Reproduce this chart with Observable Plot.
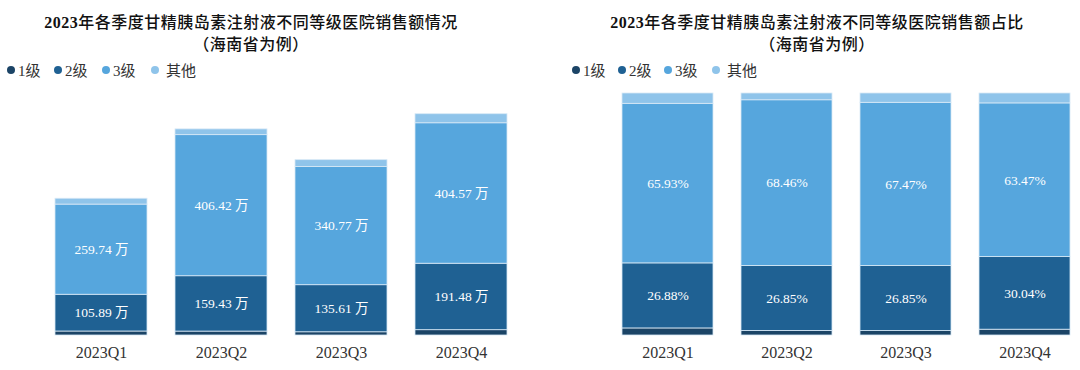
<!DOCTYPE html>
<html><head><meta charset="utf-8">
<script src="https://cdn.jsdelivr.net/npm/d3@7"></script>
<script src="https://cdn.jsdelivr.net/npm/@observablehq/plot@0.6"></script>
<style>
body{margin:0;background:#fff;width:1080px;height:370px;overflow:hidden;font-family:"Liberation Serif","Noto Sans CJK SC",serif;color:#222;}
#wrap{display:flex;}
.panel{position:relative;width:540px;height:370px;}
.t1,.t2{position:absolute;width:540px;text-align:center;font-weight:500;font-size:16px;letter-spacing:0.5px;white-space:nowrap;color:#111;}
.t1 b{font-weight:bold;}
.t1{top:9px;}
.t2{top:31px;}
.legend{position:absolute;top:59px;display:flex;align-items:center;font-size:15px;color:#333;}
.item{display:flex;align-items:center;margin-right:6px;}
.dot{width:8px;height:8px;border-radius:50%;margin-right:3px;}
.chart{position:absolute;top:80px;left:0;}
</style></head>
<body><div id="wrap"></div>
<script>
const quarters = ["2023Q1","2023Q2","2023Q3","2023Q4"];
const grades = ["1级","2级","3级","其他"];
const level1 = [11.5, 11.3, 9.3, 15.3];
const level2 = [105.89, 159.43, 135.61, 191.48];
const level3 = [259.74, 406.42, 340.77, 404.57];
const others = [16.8, 16.6, 19.4, 26.1];
const share2 = [26.88, 26.85, 26.85, 30.04];
const share3 = [65.93, 68.46, 67.47, 63.47];
const colors = ["#1b4466","#1f6193","#56a6dd","#8fc4ea"];
const titlesLeft = ["2023", "年各季度甘精胰岛素注射液不同等级医院销售额情况","（海南省为例）"];
const titlesRight = ["2023", "年各季度甘精胰岛素注射液不同等级医院销售额占比","（海南省为例）"];

const series = [level1, level2, level3, others];
const rows = [];
quarters.forEach((q, i) => {
  grades.forEach((g, j) => {
    const v = series[j][i];
    let amt = "", pct = "";
    if (j === 1) { amt = v.toFixed(2) + " 万"; pct = share2[i].toFixed(2) + "%"; }
    if (j === 2) { amt = v.toFixed(2) + " 万"; pct = share3[i].toFixed(2) + "%"; }
    rows.push({quarter: q, grade: g, value: v, amt, pct});
  });
});

function panel(titles, titleShift, legendLeft, spacings, plot) {
  const p = document.createElement("div");
  p.className = "panel";
  const t1 = document.createElement("div"); t1.className = "t1"; t1.style.left = titleShift + "px";
  const b = document.createElement("b"); b.textContent = titles[0];
  t1.append(b, document.createTextNode(titles[1]));
  const t2 = document.createElement("div"); t2.className = "t2"; t2.style.left = titleShift + "px"; t2.textContent = titles[2];
  p.append(t1, t2);
  const lg = document.createElement("div"); lg.className = "legend"; lg.style.left = legendLeft + "px";
  grades.forEach((g, j) => {
    const it = document.createElement("div"); it.className = "item";
    it.style.width = spacings[j] + "px";
    const d = document.createElement("div"); d.className = "dot"; d.style.background = colors[j];
    if (j === 3) d.style.marginRight = "7px";
    const s = document.createElement("span"); s.textContent = g;
    it.append(d, s); lg.append(it);
  });
  p.append(lg);
  plot.classList.add("chart");
  p.append(plot);
  document.getElementById("wrap").append(p);
}

const common = {
  width: 540, height: 290, marginTop: 12, marginBottom: 35, marginLeft: 0, marginRight: 0,
  color: {domain: grades, range: colors},
  style: {fontFamily: "Liberation Serif, Noto Sans CJK SC, serif", background: "transparent"}
};

const left = Plot.plot({
  ...common,
  x: {domain: quarters, range: [54, 508], paddingInner: 0.233, paddingOuter: 0, axis: null},
  y: {domain: [0, 700], axis: null},
  marks: [
    Plot.barY(rows, Plot.stackY({x: "quarter", y: "value", fill: "grade", stroke: "#d8e9f6", strokeWidth: 0.8})),
    Plot.text(rows, Plot.stackY({x: "quarter", y: "value", z: "grade", text: "amt", fill: "white", fontSize: 13.5})),
    Plot.axisX({tickSize: 0, tickPadding: 11, fontSize: 16, fill: "#333", label: null})
  ]
});

const right = Plot.plot({
  ...common,
  marginTop: 13,
  x: {domain: quarters, range: [80, 532], paddingInner: 0.233, paddingOuter: 0, axis: null},
  y: {domain: [0, 1], axis: null},
  marks: [
    Plot.barY(rows, Plot.stackY({x: "quarter", y: "value", fill: "grade", offset: "normalize", stroke: "#d8e9f6", strokeWidth: 0.8})),
    Plot.text(rows, Plot.stackY({x: "quarter", y: "value", z: "grade", offset: "normalize", text: "pct", fill: "white", fontSize: 13.5})),
    Plot.axisX({tickSize: 0, tickPadding: 11, fontSize: 16, fill: "#333", label: null})
  ]
});

panel(titlesLeft, -19, 7, [41, 42, 43, 50], left);
panel(titlesRight, 7, 32, [40, 40, 42, 50], right);
</script></body></html>
